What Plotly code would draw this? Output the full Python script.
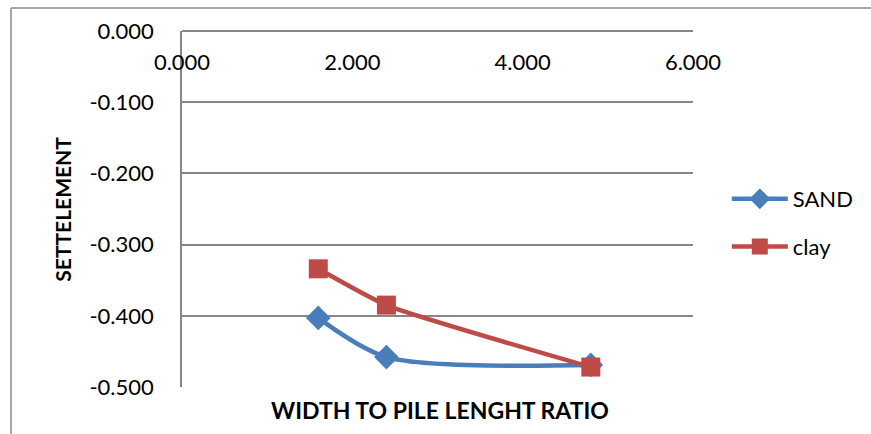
import plotly.graph_objects as go

# Width-to-pile-length ratio and settlement for each soil type
ratio = [1.6, 2.4, 4.8]
sand_settlement = [-0.403, -0.458, -0.469]
clay_settlement = [-0.334, -0.385, -0.472]

x_ticks = [0, 2, 4, 6]
y_ticks = [0, -0.1, -0.2, -0.3, -0.4, -0.5]

FONT = "Lato, 'Open Sans', sans-serif"
GRID = "#878787"

fig = go.Figure()
fig.add_trace(go.Scatter(
    x=ratio, y=sand_settlement, name="SAND", mode="lines+markers",
    legendgroup="sand",
    line=dict(color="#4A7EBB", width=4.5, shape="spline", smoothing=0.8),
    marker=dict(symbol="diamond", size=19, color="#4A7EBB"),
))
fig.add_trace(go.Scatter(
    x=ratio, y=clay_settlement, name="clay", mode="lines+markers",
    legendgroup="clay",
    line=dict(color="#BE4B48", width=4.5, shape="spline", smoothing=0.5),
    marker=dict(symbol="square", size=19, color="#BE4B48"),
))

W, H = 871, 434
L, R, T, B = 182, 175, 31, 47
pw, ph = W - L - R, H - T - B

def px_x(p):
    return (p - L) / pw

def px_y(p):
    return (H - B - p) / ph

fig.update_layout(
    width=W, height=H,
    margin=dict(l=L, r=R, t=T, b=B),
    paper_bgcolor="white", plot_bgcolor="white",
    font=dict(family=FONT, size=22, color="black"),
    showlegend=True,
    legend=dict(x=px_x(730), y=px_y(178), xanchor="left", yanchor="top",
                font=dict(size=22), tracegroupgap=16, itemwidth=56,
                bgcolor="rgba(0,0,0,0)"),
    xaxis=dict(
        range=[0, 6], tickvals=x_ticks,
        ticktext=[f"{v:.3f}" for v in x_ticks],
        anchor="free", position=1, side="bottom",
        showgrid=False, zeroline=False,
        showline=True, linecolor=GRID, linewidth=2,
        ticks="", ticklabelstandoff=12,
    ),
    yaxis=dict(
        range=[-0.5, 0], tickvals=y_ticks,
        ticktext=[f"{v:.3f}" for v in y_ticks],
        showgrid=True, gridcolor=GRID, gridwidth=1.5,
        zeroline=False, showline=True, linecolor=GRID, linewidth=1.5,
        ticks="", ticklabelstandoff=22,
    ),
    annotations=[
        dict(text="<b>WIDTH TO PILE LENGHT RATIO</b>", xref="paper", yref="paper",
             x=px_x(442), y=px_y(410), xanchor="center", yanchor="middle",
             showarrow=False, font=dict(size=23)),
        dict(text="<b>SETTELEMENT</b>", xref="paper", yref="paper",
             x=px_x(64), y=px_y(209), xanchor="center", yanchor="middle",
             xshift=-3, textangle=-90, showarrow=False, font=dict(size=21)),
    ],
    shapes=[
        dict(type="line", xref="paper", yref="paper",
             x0=px_x(10), x1=px_x(880), y0=px_y(8), y1=px_y(8),
             line=dict(color="#8a8a8a", width=1.5)),
        dict(type="line", xref="paper", yref="paper",
             x0=px_x(10), x1=px_x(10), y0=px_y(8), y1=px_y(440),
             line=dict(color="#8a8a8a", width=1.5)),
    ],
)

fig.write_html("out.html")
